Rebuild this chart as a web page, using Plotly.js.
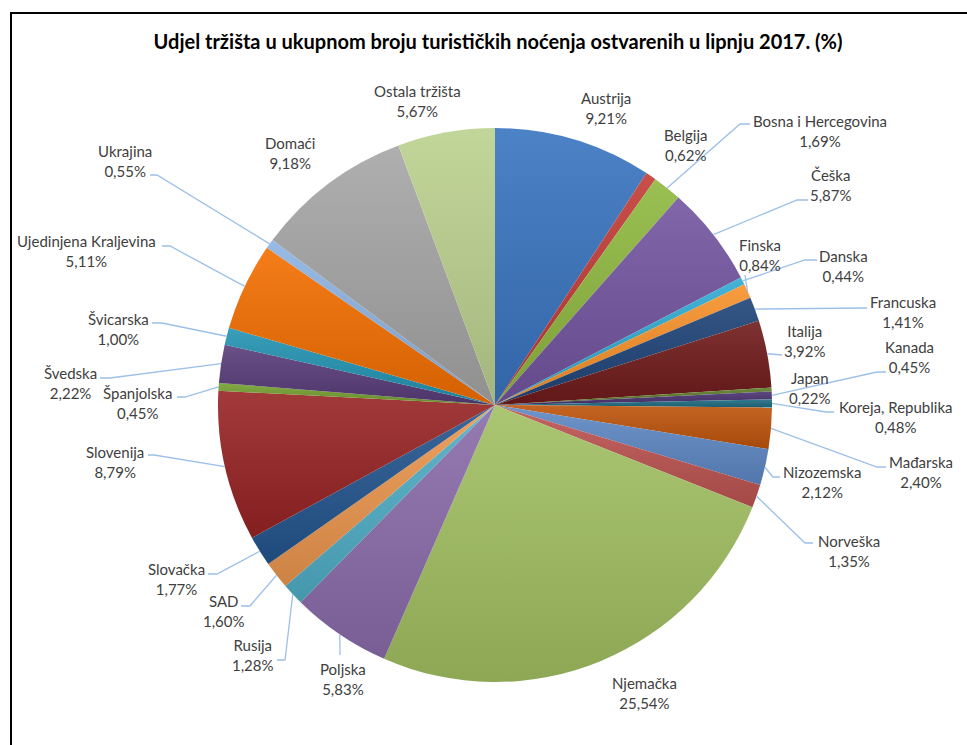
<!DOCTYPE html>
<html>
<head>
<meta charset="utf-8">
<script src="https://cdn.plot.ly/plotly-3.0.1.min.js"></script>
<style>
html,body{margin:0;padding:0;background:#fff;}
#chart{width:967px;height:745px;}
</style>
</head>
<body>
<div id="chart"></div>
<script>
// ---------- DATA ----------
const markets = ["Austrija","Belgija","Bosna i Hercegovina","Češka","Danska","Finska","Francuska","Italija","Japan","Kanada","Koreja, Republika","Mađarska","Nizozemska","Norveška","Njemačka","Poljska","Rusija","SAD","Slovačka","Slovenija","Španjolska","Švedska","Švicarska","Ujedinjena Kraljevina","Ukrajina","Domaći","Ostala tržišta"];
const shares = [9.21,0.62,1.69,5.87,0.44,0.84,1.41,3.92,0.22,0.45,0.48,2.40,2.12,1.35,25.54,5.83,1.28,1.60,1.77,8.79,0.45,2.22,1.00,5.11,0.55,9.18,5.67];
const chartTitle = "Udjel tržišta u ukupnom broju turističkih noćenja ostvarenih u lipnju 2017. (%)";

// ---------- STYLE / LAYOUT ----------
const sliceColors = ["#3874C0","#C23B36","#8FB83F","#7355A0","#2FAAD0","#F7912A","#1F4478","#701B1A","#5C7C26","#4B3472","#1F6C82","#BE540C","#5E88C4","#BC5452","#A2C062","#8A6CAA","#4FAEC6","#EC964E","#24558F","#982424","#74A030","#583D7A","#2393B2","#F46E00","#8DB3E2","#A6A6A6","#BCD18F"];
const W = 967, H = 745, CX = 495, CY = 405, R = 277;
// label block centres (px)
const labelPos = [[606,108],[686,145],[820,131],[831,185],[843,266],[760,255],[903,312],[805,341],[810,388],[909,357],[895,417],[921,472],[822,482],[849,551],[644,693],[343,679],[253,655],[224,611],[176,579],[115,462],[137,403],[70,383],[118,329],[86,251],[125,161],[290,153],[417,101]];
// leader line: [endX, endY, elbowX] near the label (null = no leader, elbowX null = straight)
const leaders = [null,null,[750,124,740],[808,200,797],[817,260,805],[745,275,null],[867,308,null],[782,355,null],null,[886,372,877],[834,412,826],[886,467,877],[780,477,773],[813,543,805],null,[340,655,null],[277,660,285],[241,606,250],[208,574,217],[148,455,154],[177,397,185],[100,378,110],[152,323,162],[162,246,170],[150,175,157],null,null];

const fmt = v => v.toFixed(2).replace('.', ',') + '%';
const px = x => x / W;
const py = y => 1 - y / H;

// slice mid-angle edge points computed from data
const total = shares.reduce((a,b)=>a+b,0);
let cum = 0;
const edgePts = shares.map(v => {
  const f = (cum + v/2) / total; cum += v;
  const th = 2*Math.PI*f;
  return [CX + R*Math.sin(th), CY - R*Math.cos(th)];
});

const annotations = markets.map((m,i) => ({
  text: m + '<br>' + fmt(shares[i]),
  x: px(labelPos[i][0]), y: py(labelPos[i][1]),
  xref: 'paper', yref: 'paper', xanchor: 'center', yanchor: 'middle',
  showarrow: false, align: 'center',
  font: {family: 'Lato, "Open Sans", sans-serif', size: 15, color: '#404040'}
}));

const shapes = [];
leaders.forEach((l,i) => {
  if (!l) return;
  const [ex, ey, bx] = l;
  const e = edgePts[i];
  let path = `M ${px(ex)} ${py(ey)}`;
  if (bx !== null) path += ` L ${px(bx)} ${py(ey)}`;
  path += ` L ${px(e[0])} ${py(e[1])}`;
  shapes.push({type:'path', xref:'paper', yref:'paper', path, line:{color:'#9CC0E8', width:1.3}});
});
// chart frame
shapes.push({type:'rect', xref:'paper', yref:'paper', x0: px(11), x1: 1.02, y0: -0.02, y1: py(13), line:{color:'#000', width:2}, fillcolor:'rgba(0,0,0,0)'});

const trace = {
  type: 'pie',
  labels: markets,
  values: shares,
  sort: false,
  direction: 'clockwise',
  rotation: 0,
  textinfo: 'none',
  hoverinfo: 'label+percent',
  showlegend: false,
  marker: {colors: sliceColors, line: {width: 0}},
  domain: {x: [(CX-R)/W, (CX+R)/W], y: [1-(CY+R)/H, 1-(CY-R)/H]}
};

const layout = {
  width: W, height: H,
  margin: {l:0, r:0, t:0, b:0},
  paper_bgcolor: '#fff',
  title: {text: chartTitle, x: px(498), y: py(42), xanchor: 'center', yanchor: 'middle',
          font: {family: 'Lato, "Open Sans", sans-serif', size: 20, color: '#000', weight: 'bold'}},
  annotations, shapes
};

function shade(hex, t) {
  const n = parseInt(hex.slice(1),16);
  let r=(n>>16)&255, g=(n>>8)&255, b=n&255;
  const f = c => t>=0 ? Math.round(c + (255-c)*t) : Math.round(c*(1+t));
  return `rgb(${f(r)},${f(g)},${f(b)})`;
}

Plotly.newPlot('chart', [trace], layout, {displayModeBar:false, staticPlot:true}).then(gd => {
  const ns = 'http://www.w3.org/2000/svg';
  const svg = gd.querySelector('svg.main-svg');
  let defs = svg.querySelector('defs');
  if (!defs) { defs = document.createElementNS(ns,'defs'); svg.insertBefore(defs, svg.firstChild); }
  const paths = gd.querySelectorAll('.pielayer .slice path.surface');
  paths.forEach((p, k) => {
    const d = p.__data__ || (p.parentNode && p.parentNode.__data__);
    const i = (d && typeof d.i === 'number') ? d.i : k;
    const g = document.createElementNS(ns,'linearGradient');
    g.setAttribute('id','sliceGrad'+i);
    g.setAttribute('x1','0'); g.setAttribute('y1','0'); g.setAttribute('x2','0'); g.setAttribute('y2','1');
    [[0, shade(sliceColors[i], 0.10)],[1, shade(sliceColors[i], -0.13)]].forEach(([o,c]) => {
      const s = document.createElementNS(ns,'stop');
      s.setAttribute('offset', o); s.setAttribute('stop-color', c);
      g.appendChild(s);
    });
    defs.appendChild(g);
    p.style.fill = 'url(#sliceGrad'+i+')';
  });
});
</script>
</body>
</html>
